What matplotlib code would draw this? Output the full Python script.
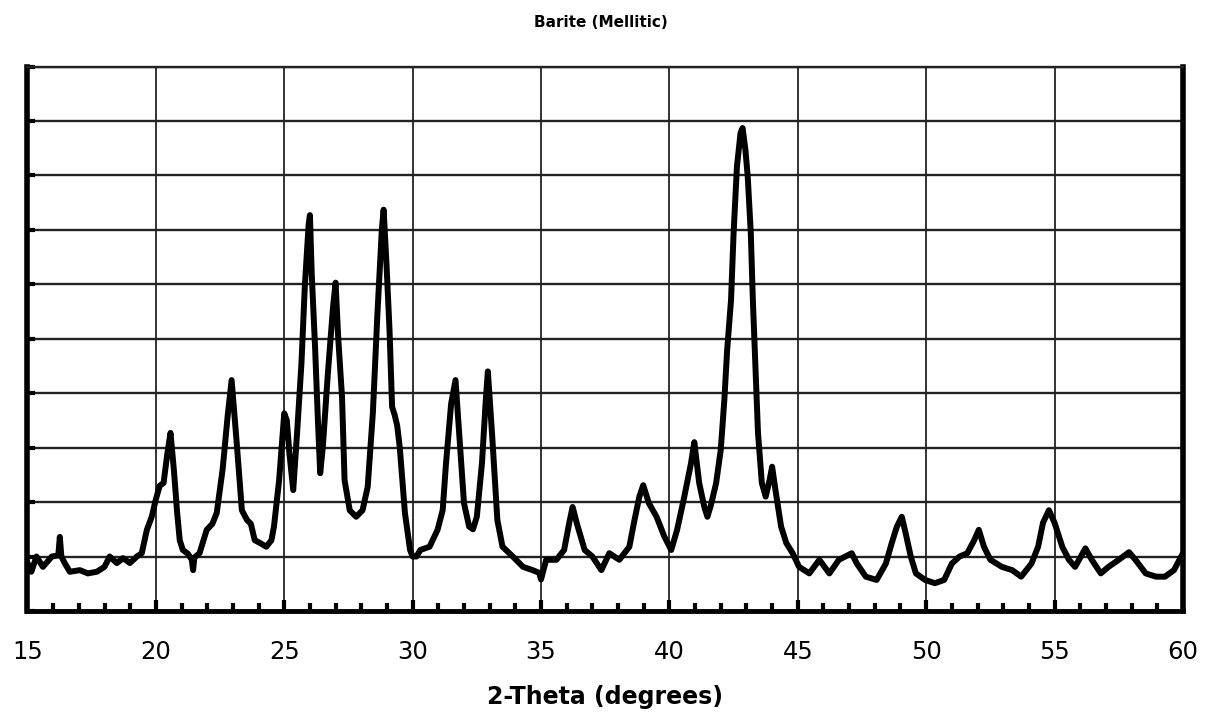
import matplotlib.pyplot as plt
import numpy as np

#----- DATA -----

two_theta = [15.0, 15.15, 15.35, 15.6, 15.95, 16.2, 16.26, 16.32, 16.45, 16.65,
             17.04, 17.35, 17.7, 18.0, 18.2, 18.48, 18.72, 18.99, 19.26, 19.45,
             19.65, 19.84, 20.0, 20.15, 20.3, 20.45, 20.57, 20.7, 20.83, 20.93,
             21.05, 21.25, 21.4, 21.45, 21.5, 21.7, 21.98, 22.2, 22.37, 22.6,
             22.8, 22.95, 23.15, 23.35, 23.55, 23.7, 23.85, 24.05, 24.3, 24.5,
             24.6, 24.8, 25.0, 25.1, 25.2, 25.35, 25.5, 25.67, 25.8, 25.95,
             26.0, 26.07, 26.2, 26.3, 26.4, 26.5, 26.7, 26.9, 27.0, 27.1,
             27.25, 27.35, 27.55, 27.8, 28.05, 28.25, 28.45, 28.63, 28.8, 28.87,
             28.98, 29.1, 29.2, 29.3, 29.4, 29.5, 29.7, 29.9, 30.0, 30.15,
             30.3, 30.66, 30.97, 31.17, 31.3, 31.5, 31.67, 31.83, 32.0, 32.2,
             32.35, 32.5, 32.7, 32.84, 32.93, 33.1, 33.3, 33.5, 33.9, 34.3,
             34.67, 34.93, 35.0, 35.2, 35.6, 35.9, 36.1, 36.23, 36.4, 36.7,
             37.0, 37.35, 37.66, 38.05, 38.44, 38.64, 38.83, 38.98, 39.2, 39.5,
             39.8, 40.07, 40.3, 40.58, 40.84, 40.97, 41.16, 41.36, 41.48, 41.62,
             41.82, 42.0, 42.14, 42.25, 42.4, 42.5, 42.63, 42.77, 42.85, 42.96,
             43.05, 43.17, 43.25, 43.35, 43.45, 43.6, 43.75, 43.9, 44.0, 44.15,
             44.35, 44.55, 44.8, 45.05, 45.45, 45.84, 46.23, 46.6, 47.1, 47.3,
             47.65, 48.07, 48.43, 48.66, 48.86, 49.05, 49.2, 49.4, 49.6, 49.96,
             50.34, 50.7, 51.0, 51.3, 51.6, 51.87, 52.05, 52.25, 52.5, 52.95,
             53.35, 53.7, 54.1, 54.36, 54.55, 54.78, 55.0, 55.3, 55.56, 55.8,
             56.2, 56.45, 56.8, 57.1, 57.5, 57.9, 58.15, 58.55, 58.95, 59.3,
             59.65, 60.0]

intensity = [0.88, 0.72, 1.0, 0.81, 1.0, 1.02, 1.36, 1.0, 0.88, 0.72,
             0.75, 0.69, 0.72, 0.81, 1.0, 0.88, 0.97, 0.88, 1.0, 1.06,
             1.49, 1.73, 2.05, 2.3, 2.35, 2.9, 3.27, 2.6, 1.8, 1.3,
             1.12, 1.05, 0.94, 0.75, 0.98, 1.06, 1.49, 1.6, 1.8, 2.6,
             3.6, 4.24, 3.08, 1.85, 1.67, 1.6, 1.3, 1.25, 1.18, 1.3,
             1.55, 2.4, 3.63, 3.5, 2.9, 2.22, 3.27, 4.55, 5.95, 7.1,
             7.27, 6.2, 4.85, 3.63, 2.53, 3.0, 4.37, 5.58, 6.03, 5.03,
             3.93, 2.4, 1.85, 1.73, 1.85, 2.28, 3.63, 5.47, 7.0, 7.37,
             6.39, 5.16, 3.75, 3.6, 3.4, 3.0, 1.8, 1.12, 1.0, 1.0,
             1.12, 1.18, 1.49, 1.85, 2.71, 3.81, 4.24, 3.14, 1.98, 1.55,
             1.5, 1.73, 2.71, 3.81, 4.4, 3.2, 1.67, 1.18, 1.0, 0.81,
             0.75, 0.7, 0.58, 0.94, 0.94, 1.12, 1.62, 1.91, 1.6, 1.12,
             1.0, 0.75, 1.06, 0.94, 1.18, 1.67, 2.1, 2.31, 1.98, 1.73,
             1.37, 1.12, 1.49, 2.1, 2.71, 3.1, 2.35, 1.91, 1.73, 1.95,
             2.35, 2.96, 3.88, 4.8, 5.71, 6.94, 8.16, 8.78, 8.87, 8.47,
             7.98, 6.94, 5.71, 4.48, 3.27, 2.35, 2.1, 2.4, 2.65, 2.16,
             1.55, 1.25, 1.06, 0.81, 0.69, 0.94, 0.69, 0.94, 1.06, 0.87,
             0.63, 0.57, 0.87, 1.25, 1.55, 1.73, 1.43, 1.0, 0.69, 0.57,
             0.51, 0.57, 0.87, 1.0, 1.06, 1.3, 1.49, 1.18, 0.94, 0.81,
             0.75, 0.63, 0.87, 1.18, 1.62, 1.85, 1.62, 1.18, 0.94, 0.81,
             1.15, 0.94, 0.69, 0.81, 0.94, 1.08, 0.94, 0.69, 0.63, 0.63,
             0.75, 1.06]

x_ticks = [15, 20, 25, 30, 35, 40, 45, 50, 55, 60]

#----- PLOT -----

fig = plt.figure(figsize=(12.05, 7.12), dpi=100)
ax = fig.add_axes([0.0228, 0.1419, 0.9589, 0.7647])

ax.plot(two_theta, intensity, color='black', linewidth=4.3, solid_joinstyle='round')

ax.set_xlim(15, 60)
ax.set_ylim(0, 10)
ax.set_xticks(x_ticks)
ax.set_xticks(np.arange(15, 61, 1), minor=True)
ax.set_yticks(np.arange(0, 11, 1))
ax.set_yticklabels([])

ax.grid(True, which='major', axis='y', color='#222222', linewidth=1.7)
ax.grid(True, which='major', axis='x', color='#333333', linewidth=1.4)
ax.set_axisbelow(True)

ax.tick_params(axis='x', which='major', direction='in', length=8, width=3,
               labelsize=17.5, pad=21, top=False)
ax.tick_params(axis='x', which='minor', direction='in', length=6, width=3, top=False)
ax.tick_params(axis='y', which='major', direction='in', length=6, width=3, right=False)

ax.spines['left'].set_linewidth(4)
ax.spines['bottom'].set_linewidth(3.5)
ax.spines['right'].set_linewidth(4)
ax.spines['top'].set_linewidth(1.7)
ax.spines['top'].set_color('#222222')

ax.set_xlabel('2-Theta (degrees)', fontsize=17, fontweight='bold', labelpad=15)
fig.text(0.4983, 0.969, 'Barite (Mellitic)', ha='center', va='center',
         fontsize=11, fontweight='bold')

fig.savefig('out.png', dpi=100)
